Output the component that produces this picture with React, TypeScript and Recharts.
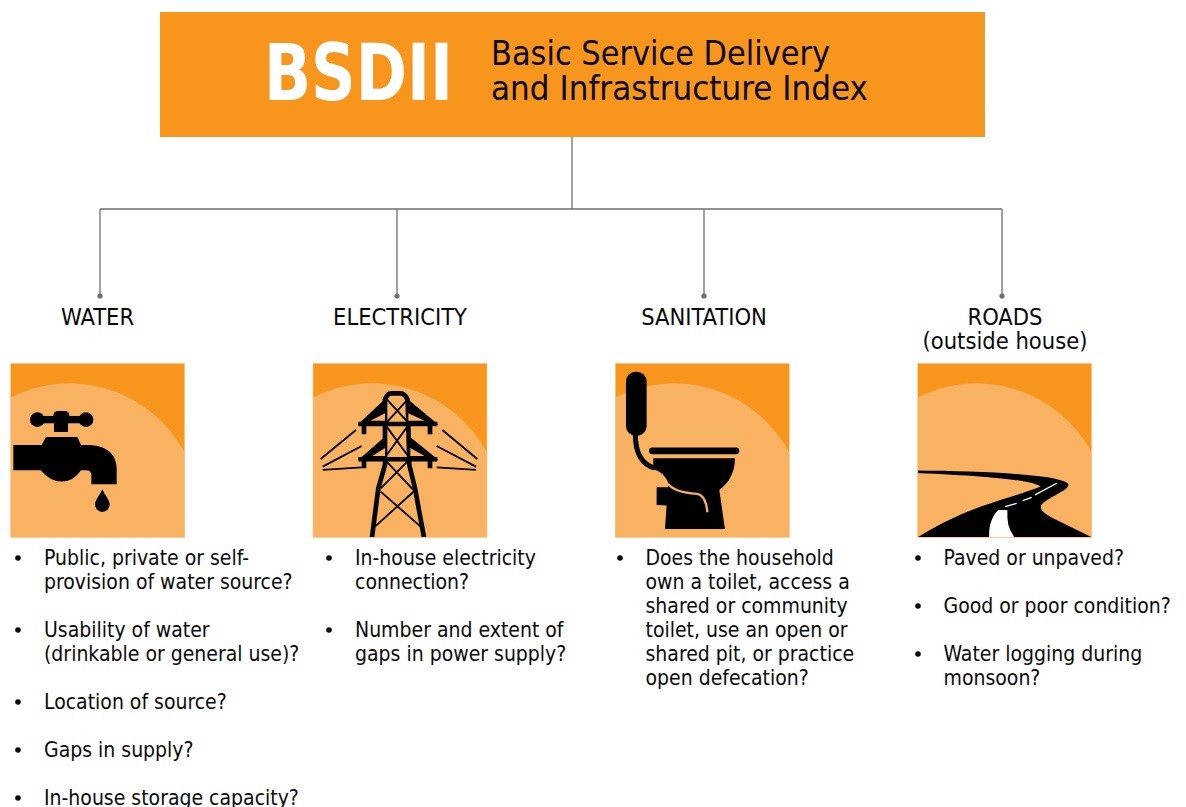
import React from "react";
import { ScatterChart, Scatter, XAxis, YAxis, ReferenceArea } from "recharts";

// ---- content ----
const ACRONYM = "BSDII";
const TITLE_LINES = ["Basic Service Delivery", "and Infrastructure Index"];
const PILLARS = ["WATER", "ELECTRICITY", "SANITATION", "ROADS"];
const PILLAR_NOTE = "(outside house)";
const WATER_BULLETS = [
  ["Public, private or self-", "provision of water source?"],
  ["Usability of water", "(drinkable or general use)?"],
  ["Location of source?"],
  ["Gaps in supply?"],
  ["In-house storage capacity?"],
];
const ELECTRICITY_BULLETS = [
  ["In-house electricity", "connection?"],
  ["Number and extent of", "gaps in power supply?"],
];
const SANITATION_BULLETS = [
  ["Does the household", "own a toilet, access a", "shared or community", "toilet, use an open or", "shared pit, or practice", "open defecation?"],
];
const ROADS_BULLETS = [
  ["Paved or unpaved?"],
  ["Good or poor condition?"],
  ["Water logging during", "monsoon?"],
];
const ICONS = ["tap", "tower", "toilet", "road"];

// ---- layout ----
const W = 1186;
const H = 807;
const FONT = "'DejaVu Sans'";
const STRETCH = "condensed";
const DARK = "#F8951D";
const LIGHT = "#F8B262";
const LINE = "#6E6E6E";
const INK = "#0A0A0A";
const BANNER = { x1: 160, x2: 985, y1: 12, y2: 137 };
const TRUNK_X = 572;
const BUS_Y = 209;
const DROP_END = 296;
const DROP_X = [100, 397, 704, 1002];
const LABEL_X = [97.5, 400, 704, 1005];
const TILE_X = [10.7, 313, 615.3, 917.7];
const TILE_Y = 363.3;
const DOT_X = [18, 329, 620, 918];
const TEXT_X = [44, 355, 645.5, 943.5];
const FIRST_BASE = 565;
const LINE_H = 24;
const ACRONYM_WIDTH = 189;
const TITLE_WIDTH = [339, 377];

type Txt = { x: number; y: number; text: string; size: number; fill: string; anchor: string; weight?: string; fit?: number };

const buildBullets = (): { texts: Txt[]; dots: { x: number; y: number }[] } => {
  const texts: Txt[] = [];
  const dots: { x: number; y: number }[] = [];
  [WATER_BULLETS, ELECTRICITY_BULLETS, SANITATION_BULLETS, ROADS_BULLETS].forEach((group, g) => {
    let base = FIRST_BASE;
    group.forEach((lines) => {
      dots.push({ x: DOT_X[g], y: base - 7 });
      lines.forEach((text) => {
        texts.push({ x: TEXT_X[g], y: base, text, size: 21, fill: INK, anchor: "start" });
        base += LINE_H;
      });
      base += LINE_H;
    });
  });
  return { texts, dots };
};

const bullets = buildBullets();
const headerTexts: Txt[] = [
  { x: 264, y: 100, text: ACRONYM, size: 78, fill: "#fff", anchor: "start", weight: "bold", fit: ACRONYM_WIDTH },
  { x: 491, y: 65, text: TITLE_LINES[0], size: 34.6, fill: INK, anchor: "start", fit: TITLE_WIDTH[0] },
  { x: 491, y: 100, text: TITLE_LINES[1], size: 34.6, fill: INK, anchor: "start", fit: TITLE_WIDTH[1] },
  ...PILLARS.map((text, i) => ({ x: LABEL_X[i], y: 325, text, size: 23.5, fill: INK, anchor: "middle" })),
  { x: LABEL_X[3], y: 349, text: PILLAR_NOTE, size: 23.5, fill: INK, anchor: "middle" },
];
const allTexts = [...headerTexts, ...bullets.texts];
const tiles = ICONS.map((icon, i) => ({ x: TILE_X[i], y: TILE_Y, icon, id: i }));
const connectors = [
  [{ x: TRUNK_X, y: BANNER.y2 }, { x: TRUNK_X, y: BUS_Y }],
  [{ x: DROP_X[0], y: BUS_Y }, { x: DROP_X[3], y: BUS_Y }],
  ...DROP_X.map((x) => [{ x, y: BUS_Y }, { x, y: DROP_END }]),
];
const ends = DROP_X.map((x) => ({ x, y: DROP_END }));

// ---- icons, drawn in a 522-unit tile box ----
const TapIcon = () => (
  <g fill="#000">
    <circle cx={80} cy={169} r={22} />
    <circle cx={226} cy={169} r={22} />
    <rect x={80} y={158} width={146} height={22} />
    <rect x={128} y={143} width={48} height={30} rx={14} />
    <rect x={130} y={160} width={42} height={46} />
    <path d="M8,245 L93,245 L106,221 L200,221 L211,245 L238,245 Q318,250 318,320 L318,363 L242,363 L242,333 Q240,321 226,321 L211,321 Q188,355 153,355 Q118,355 90,321 L8,321 Z" />
    <path d="M275,378 C268,395 253,410 253,424 A22,22 0 0 0 297,424 C297,410 282,395 275,378 Z" />
  </g>
);

const TowerIcon = () => (
  <g fill="none" stroke="#000" strokeLinecap="butt">
    <g strokeWidth={14}>
      <path d="M177,522 L196,375 L216,305 L216,110 Q222,90 236,90 L262,90 Q276,90 284,110 L289,305 L306,375 L333,522" />
      <path d="M136,182 L373,182 M136,288 L373,288" />
      <path d="M153,182 L153,213 M351,182 L351,213 M153,288 L153,315 M351,288 L351,315" />
    </g>
    <path d="M216,110 L139,182 L216,182 Z M284,110 L371,182 L295,182 Z M216,223 L141,288 L216,288 Z M290,223 L371,288 L296,288 Z" fill="#000" stroke="#000" strokeWidth={4} />
    <path d="M216,150 L172,172 L216,172 Z M286,150 L335,172 L286,172 Z M216,254 L178,278 L216,278 Z M292,254 L335,278 L292,278 Z" fill={LIGHT} stroke="none" />
    <g strokeWidth={5.5}>
      <path d="M223,110 L283,175 M283,110 L223,175" />
      <path d="M221,190 L283,275 M283,190 L221,275" />
      <path d="M221,295 L301,380 M283,295 L203,375" />
      <path d="M203,385 L323,490 M304,383 L186,490" />
      <path d="M129,200 L23,287 M146,248 L29,310 M146,312 L29,320" />
      <path d="M388,200 L493,287 M371,248 L489,310 M371,312 L489,320" />
    </g>
  </g>
);

const ToiletIcon = () => (
  <g>
    <rect x={32} y={25} width={62} height={193} rx={30} fill="#000" />
    <path d="M60,212 C60,260 75,302 118,314" fill="none" stroke="#000" strokeWidth={15} />
    <path d="M111,263 L362,263" stroke="#000" strokeWidth={20} strokeLinecap="round" />
    <path d="M114,285 L359,285 Q359,345 312,380 L329,497 L149,497 L154,427 L124,425 L124,372 L158,372 L160,360 Q145,325 114,318 Z" fill="#000" />
    <path d="M159,362 C175,385 215,390 245,392 C265,395 275,420 276,447" fill="none" stroke={LIGHT} strokeWidth={7} />
  </g>
);

const RoadIcon = () => (
  <g>
    <path
      d="M-2,322 C150,323 330,330 405,345 C440,352 455,360 452,367 C445,385 405,395 370,425 C365,440 380,450 400,462 L522,522 L0,522 C60,485 120,455 190,430 C260,405 320,390 369,370 C340,352 250,340 -2,329 Z"
      fill="#000"
    />
    <path d="M214,522 Q214,500 217,485 Q225,455 242,440 L269,440 Q268,465 272,485 Q278,505 290,522 Z" fill="#fff" />
    <path d="M262,430 L297,420 M315,412 L342,402 M352,395 L417,360" stroke="#fff" strokeWidth={4} fill="none" />
  </g>
);

const ICON_MAP: Record<string, () => React.ReactElement> = {
  tap: TapIcon,
  tower: TowerIcon,
  toilet: ToiletIcon,
  road: RoadIcon,
};

// ---- shapes ----
const TileShape = (p: any) => {
  const { cx, cy, payload } = p;
  const Icon = ICON_MAP[payload.icon];
  const S = 174;
  const clip = `tile-clip-${payload.id}`;
  return (
    <g transform={`translate(${cx},${cy})`}>
      <defs>
        <clipPath id={clip}>
          <rect x={0} y={0} width={S} height={S} />
        </clipPath>
      </defs>
      <rect x={0} y={0} width={S} height={S} fill={DARK} />
      <g clipPath={`url(#${clip})`}>
        <circle cx={59} cy={150} r={130} fill={LIGHT} />
        <g transform="scale(0.3333)">
          <Icon />
        </g>
      </g>
      <rect x={0} y={0} width={S} height={S} fill="none" stroke="#FBCB94" strokeWidth={0.6} />
    </g>
  );
};

const TextShape = (p: any) => {
  const { cx, cy, payload } = p as { cx: number; cy: number; payload: Txt };
  return (
    <text
      x={cx}
      y={cy}
      textAnchor={payload.anchor as any}
      fontFamily={FONT}
      fontSize={payload.size}
      fontWeight={payload.weight ?? "normal"}
      fontStretch={STRETCH}
      fill={payload.fill}
      textLength={payload.fit}
      lengthAdjust={payload.fit ? "spacingAndGlyphs" : undefined}
    >
      {payload.text}
    </text>
  );
};

const NoMark = () => <g />;
const DotShape = (r: number, fill: string) => (p: any) => <circle cx={p.cx} cy={p.cy} r={r} fill={fill} />;

export default function App() {
  return (
    <div style={{ position: "absolute", left: 0, top: 0, width: W, height: H, background: "#fff" }}>
      <ScatterChart width={W} height={H} margin={{ top: 0, right: 0, bottom: 0, left: 0 }}>
        <XAxis type="number" dataKey="x" domain={[0, W]} hide allowDataOverflow />
        <YAxis type="number" dataKey="y" domain={[0, H]} reversed hide allowDataOverflow />
        <ReferenceArea x1={BANNER.x1} x2={BANNER.x2} y1={BANNER.y1} y2={BANNER.y2} fill={DARK} fillOpacity={1} stroke="none" />
        {connectors.map((seg, i) => (
          <Scatter key={i} data={seg} line={{ stroke: LINE, strokeWidth: 1.3 }} shape={NoMark} isAnimationActive={false} />
        ))}
        <Scatter data={ends} shape={DotShape(2.6, LINE)} isAnimationActive={false} />
        <Scatter data={tiles} shape={TileShape} isAnimationActive={false} />
        <Scatter data={bullets.dots} shape={DotShape(2.8, "#0A0A0A")} isAnimationActive={false} />
        <Scatter data={allTexts} shape={TextShape} isAnimationActive={false} />
      </ScatterChart>
    </div>
  );
}
